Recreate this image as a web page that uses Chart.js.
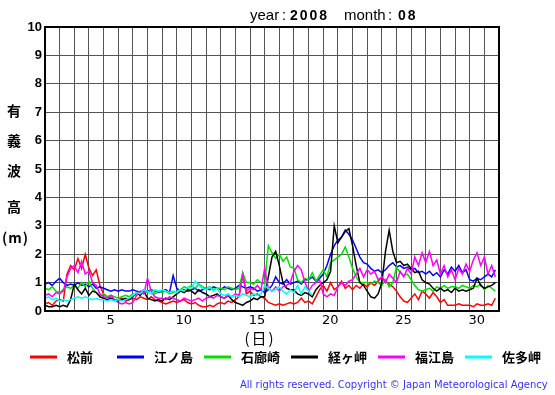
<!DOCTYPE html>
<html>
<head>
<meta charset="utf-8">
<script src="https://cdn.jsdelivr.net/npm/chart.js@4/dist/chart.umd.min.js"></script>
<style>
html, body { margin: 0; padding: 0; background: #fff; }
</style>
</head>
<body>
<canvas id="graph" width="555" height="395"></canvas>
<script>
// 2008年8月 有義波高 (6時間ごとの読み取り値, m)
var year = "2008";
var month = "08";
var stations = ["松前", "江ノ島", "石廊崎", "経ヶ岬", "福江島", "佐多岬"];
var lineColors = ["#ff0000", "#0000ff", "#00dd00", "#000000", "#ff00ff", "#00ffff"];
var dayLabels = [5, 10, 15, 20, 25, 30];
var samplesPerDay = 4;

var matsumae = [0.25,0.3,0.2,0.35, 0.4,0.35,1.3,1.6, 1.45,1.85,1.5,2.0, 1.5,1.25,1.45,0.9,
  0.6,0.5,0.45,0.4, 0.4,0.45,0.35,0.4, 0.45,0.4,0.5,0.45, 0.4,0.5,0.4,0.35,
  0.3,0.25,0.3,0.35, 0.3,0.35,0.4,0.3, 0.25,0.3,0.2,0.15, 0.15,0.2,0.15,0.25,
  0.3,0.25,0.35,0.3, 0.4,0.5,1.3,0.6, 0.7,0.55,0.6,0.5, 0.45,0.3,0.25,0.2,
  0.25,0.2,0.25,0.3, 0.25,0.3,0.45,0.3, 0.35,0.25,0.5,0.75, 0.9,0.7,1.0,0.75,
  0.85,1.05,0.8,0.9, 0.75,0.9,0.8,0.95, 0.85,1.0,0.9,1.05, 1.2,1.05,0.95,0.85,
  0.7,0.5,0.35,0.3, 0.45,0.6,0.4,0.7, 0.6,0.45,0.65,0.5, 0.3,0.4,0.2,0.2,
  0.2,0.25,0.2,0.2, 0.2,0.15,0.25,0.2, 0.2,0.25,0.2,0.45];
var enoshima = [0.95,1.0,0.9,1.05, 1.15,1.0,0.9,0.95, 0.9,1.0,0.9,0.95, 0.85,0.95,0.8,0.85,
  0.8,0.75,0.7,0.75, 0.7,0.75,0.7,0.7, 0.75,0.7,0.65,0.75, 0.7,0.75,0.7,0.65,
  0.7,0.75,0.65,1.25, 0.8,0.7,0.75,0.7, 0.75,0.8,0.7,0.75, 0.8,0.75,0.85,0.8,
  0.75,0.85,0.8,0.75, 0.8,0.9,0.85,0.8, 0.85,0.8,0.7,0.75, 0.65,0.75,0.9,1.2,
  1.0,0.95,1.1,0.95, 1.0,1.05,0.95,1.1, 1.1,1.2,1.05,1.15, 1.3,1.6,2.0,2.3,
  2.5,2.6,2.85,2.7, 2.5,2.2,1.9,1.7, 1.65,1.5,1.4,1.45, 1.35,1.45,1.6,1.7,
  1.55,1.6,1.5,1.55, 1.45,1.5,1.35,1.4, 1.3,1.4,1.25,1.35, 1.2,1.45,1.3,1.55,
  1.4,1.6,1.35,1.45, 1.1,1.05,1.15,1.1, 1.2,1.3,1.2,1.45];
var irozaki = [0.8,0.75,0.85,0.7, 0.65,0.75,0.85,0.8, 0.9,0.8,1.0,0.85, 1.05,0.8,0.65,0.55,
  0.6,0.5,0.55,0.5, 0.45,0.5,0.55,0.5, 0.6,0.55,0.65,0.7, 0.65,0.75,0.6,0.7,
  0.65,0.7,0.6,0.65, 0.7,0.75,0.85,0.8, 0.9,0.8,0.95,0.85, 0.8,0.85,0.75,0.8,
  0.8,0.75,0.85,0.8, 0.75,0.8,1.35,1.0, 1.0,0.95,1.1,1.0, 0.95,2.3,2.05,1.85,
  2.0,1.75,1.9,1.55, 1.5,1.1,1.0,1.15, 1.1,1.35,1.05,1.25, 1.45,1.2,1.7,1.8,
  1.9,2.0,2.25,1.9, 1.5,1.2,1.0,1.0, 1.0,0.95,1.05,1.0, 0.9,1.1,0.85,1.0,
  1.55,1.35,1.25,1.3, 1.1,0.9,0.75,0.7, 0.75,0.8,0.7,0.85, 0.8,0.9,0.8,0.85,
  0.85,0.8,0.9,0.85, 0.8,0.9,0.85,0.95, 0.75,0.9,0.8,0.7];
var kyogamisaki = [0.2,0.15,0.15,0.2, 0.15,0.2,0.15,0.4, 0.95,0.75,0.6,0.8, 0.55,0.7,0.65,0.5,
  0.45,0.4,0.45,0.4, 0.35,0.4,0.45,0.4, 0.5,0.65,0.55,0.7, 0.45,0.4,0.35,0.4,
  0.35,0.45,0.4,0.5, 0.6,0.7,0.65,0.75, 0.7,0.6,0.75,0.65, 0.6,0.5,0.55,0.6,
  0.5,0.45,0.55,0.4, 0.3,0.25,0.2,0.3, 0.35,0.45,0.4,0.5, 0.5,1.2,1.9,2.1,
  1.6,1.0,0.8,0.75, 0.75,0.6,0.55,0.65, 0.6,0.5,0.75,0.9, 1.0,1.1,1.4,3.0,
  2.4,2.6,2.8,2.9, 2.3,1.6,1.0,0.9, 0.7,0.5,0.45,0.6, 1.0,2.1,2.85,2.1,
  1.7,1.75,1.6,1.65, 1.5,1.35,1.4,1.1, 1.0,0.95,0.8,0.7, 0.8,0.7,0.75,0.65,
  0.8,0.7,0.75,0.7, 0.75,0.8,1.15,0.9, 0.8,0.85,0.9,1.0];
var fukuejima = [0.55,0.6,0.5,0.65, 0.6,0.7,1.2,1.5, 1.6,1.35,1.75,1.3, 1.4,1.0,0.9,0.6,
  0.5,0.45,0.55,0.4, 0.3,0.25,0.3,0.25, 0.3,0.55,0.7,0.6, 1.15,0.7,0.5,0.45,
  0.45,0.4,0.5,0.45, 0.4,0.35,0.45,0.4, 0.35,0.4,0.45,0.35, 0.45,0.5,0.45,0.55,
  0.5,0.45,0.55,0.5, 0.6,0.55,1.25,0.7, 0.8,0.75,0.9,0.75, 1.5,0.8,0.7,0.85,
  0.7,0.85,0.9,1.0, 1.4,1.6,1.45,1.0, 0.7,0.9,1.0,1.1, 0.6,0.5,0.6,0.55,
  0.85,1.0,0.9,1.05, 1.1,1.3,1.5,1.2, 1.45,1.3,1.4,1.1, 1.2,1.0,1.3,1.15,
  1.0,1.4,1.2,1.5, 1.3,1.9,1.6,2.05, 1.7,2.1,1.6,1.8, 1.3,1.6,1.2,1.45,
  1.1,1.5,1.3,1.65, 1.4,1.8,2.05,1.6, 1.9,1.3,1.6,1.2];
// 佐多岬は19日以降欠測
var satamisaki = [0.45,0.5,0.4,0.45, 0.35,0.4,0.35,0.4, 0.45,0.5,0.45,0.5, 0.45,0.4,0.45,0.4,
  0.4,0.35,0.4,0.35, 0.4,0.35,0.4,0.45, 0.55,0.65,0.6,0.75, 0.7,0.6,0.75,0.7,
  0.75,0.7,0.65,0.7, 0.65,0.75,0.7,0.85, 0.8,1.05,0.9,0.8, 0.75,0.85,0.7,0.8,
  0.6,0.55,0.6,0.5, 0.55,0.5,0.6,0.55, 0.5,0.6,0.55,0.6, 0.9,0.8,0.7,0.75,
  0.85,0.7,0.6,0.75, 0.65,0.9,0.6,0.85, 0.7,0.55];

var seriesValues = [matsumae, enoshima, irozaki, kyogamisaki, fukuejima, satamisaki];

function toPoints(vals) {
  return vals.map(function (v, i) { return { x: 1 + i / samplesPerDay, y: v }; });
}

var datasets = stations.map(function (name, i) {
  return {
    label: name,
    data: toPoints(seriesValues[i]),
    borderColor: lineColors[i],
    borderWidth: 1.5,
    pointRadius: 0,
    fill: false,
    tension: 0,
    order: stations.length - i
  };
});

var extras = {
  id: 'extras',
  afterDraw: function (chart) {
    var ctx = chart.ctx;
    var a = chart.chartArea;
    ctx.save();
    // frame
    ctx.strokeStyle = '#000';
    ctx.lineWidth = 2;
    ctx.strokeRect(a.left, a.top, a.right - a.left, a.bottom - a.top);

    // title
    ctx.fillStyle = '#000';
    ctx.textBaseline = 'alphabetic';
    ctx.textAlign = 'left';
    ctx.font = '15px "Liberation Sans", Arial, sans-serif';
    ctx.fillText('year', 250, 20);
    ctx.fillText(':', 282, 20);
    ctx.fillText('month', 344, 20);
    ctx.fillText(':', 388, 20);
    ctx.font = 'bold 14px "Liberation Sans", Arial, sans-serif';
    ctx.letterSpacing = '2px';
    ctx.fillText(year, 290, 20);
    ctx.fillText(month, 398, 20);
    ctx.letterSpacing = '0px';

    // y title
    ctx.font = 'bold 14px "Noto Sans CJK JP", sans-serif';
    ctx.textAlign = 'center';
    ctx.textBaseline = 'middle';
    var ych = ['有', '義', '波', '高'];
    var yy = [111, 141, 171, 207];
    ych.forEach(function (c, i) { ctx.fillText(c, 14, yy[i]); });
    ctx.textAlign = 'left';
    ctx.letterSpacing = '1px';
    ctx.fillText('(m)', 2, 238);
    ctx.letterSpacing = '0px';

    // x title
    ctx.textAlign = 'center';
    ctx.font = '15px "Noto Sans CJK JP", sans-serif';
    ctx.letterSpacing = '2px';
    ctx.fillText('(日)', 260, 338);
    ctx.letterSpacing = '0px';

    // legend
    ctx.font = 'bold 13px "Noto Sans CJK JP", sans-serif';
    ctx.textAlign = 'left';
    stations.forEach(function (name, i) {
      var x0 = 30 + i * 87;
      ctx.strokeStyle = lineColors[i];
      ctx.lineWidth = 3;
      ctx.beginPath();
      ctx.moveTo(x0, 357);
      ctx.lineTo(x0 + 27, 357);
      ctx.stroke();
      ctx.fillStyle = '#000';
      ctx.fillText(name, x0 + 37, 357);
    });

    // copyright
    var note = 'All rights reserved. Copyright \u00a9 Japan Meteorological Agency';
    ctx.font = '10px "DejaVu Sans", sans-serif';
    var w = ctx.measureText(note).width;
    var sp = (308 - w) / (note.length - 1);
    ctx.letterSpacing = sp.toFixed(2) + 'px';
    ctx.fillStyle = '#3333ff';
    ctx.textAlign = 'left';
    ctx.fillText(note, 240, 385);
    ctx.restore();
  }
};

new Chart(document.getElementById('graph'), {
  type: 'line',
  data: { datasets: datasets },
  options: {
    responsive: false,
    animation: false,
    devicePixelRatio: 1,
    layout: { padding: { left: 0, right: 56, top: 27, bottom: 0 } },
    plugins: { legend: { display: false }, tooltip: { enabled: false } },
    scales: {
      x: {
        type: 'linear',
        min: 1,
        max: 32,
        grid: { color: '#555', lineWidth: 1, drawTicks: false },
        border: { display: false },
        ticks: {
          stepSize: 1,
          autoSkip: false,
          maxRotation: 0,
          labelOffset: 7,
          padding: 2,
          color: '#000',
          font: { family: '"DejaVu Sans", sans-serif', size: 13 },
          callback: function (v) { return dayLabels.indexOf(v) >= 0 ? String(v) : ''; }
        },
        afterFit: function (s) { s.height = 84; }
      },
      y: {
        min: 0,
        max: 10,
        grid: { color: '#555', lineWidth: 1, drawTicks: false },
        border: { display: false },
        ticks: {
          stepSize: 1,
          padding: 3,
          color: '#000',
          font: { family: '"Liberation Sans", Arial, sans-serif', size: 13, weight: 'bold' }
        },
        afterFit: function (s) { s.width = 45; }
      }
    }
  },
  plugins: [extras]
});
</script>
</body>
</html>
